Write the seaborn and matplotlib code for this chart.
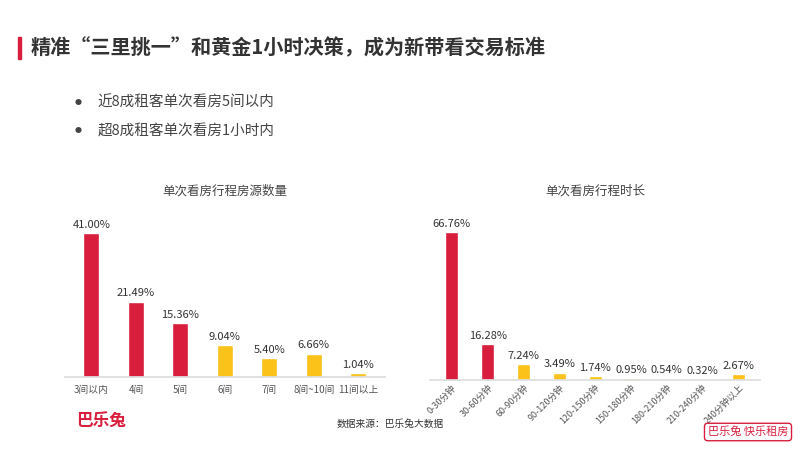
import matplotlib
matplotlib.use("Agg")
import matplotlib.pyplot as plt
import seaborn as sns
import pandas as pd

sns.set_theme(style="white")
plt.rcParams["font.family"] = ["Noto Sans CJK SC", "DejaVu Sans"]

RED = "#d81e3c"
YELLOW = "#fbc21a"

# left chart: listings viewed per trip
rooms = ["3间以内", "4间", "5间", "6间", "7间", "8间~10间", "11间以上"]
rooms_pct = [41.00, 21.49, 15.36, 9.04, 5.40, 6.66, 1.04]
rooms_hl = [True, True, True, False, False, False, False]

# right chart: trip duration
durations = ["0-30分钟", "30-60分钟", "60-90分钟", "90-120分钟", "120-150分钟",
             "150-180分钟", "180-210分钟", "210-240分钟", "240分钟以上"]
dur_pct = [66.76, 16.28, 7.24, 3.49, 1.74, 0.95, 0.54, 0.32, 2.67]
dur_hl = [True, True, False, False, False, False, False, False, False]

fig = plt.figure(figsize=(8, 4.5), dpi=100)
fig.patch.set_facecolor("white")

# header
fig.add_artist(plt.Rectangle((0.022, 0.868), 0.004, 0.05, color=RED, transform=fig.transFigure))
fig.text(0.038, 0.893, "精准“三里挑一”和黄金1小时决策，成为新带看交易标准",
         fontsize=14.5, fontweight="bold", color="#333333", va="center")
for y, line in [(0.772, "近8成租客单次看房5间以内"), (0.708, "超8成租客单次看房1小时内")]:
    fig.text(0.093, y, "●", fontsize=5, color="#444444", va="center")
    fig.text(0.122, y, line, fontsize=10.5, color="#444444", va="center")


def draw(ax, cats, vals, hl, ymax, width, title, rot):
    df = pd.DataFrame({"cat": cats, "val": vals,
                       "grp": ["hl" if h else "lo" for h in hl]})
    sns.barplot(data=df, x="cat", y="val", hue="grp",
                palette={"hl": RED, "lo": YELLOW}, dodge=False, saturation=1,
                width=width, legend=False, ax=ax)
    ax.set_ylim(0, ymax)
    ax.set_xlim(-0.6, len(cats) - 0.4)
    for i, v in enumerate(vals):
        ax.text(i, v + ymax * 0.02, f"{v:.2f}%", ha="center", va="bottom",
                fontsize=8, color="#333333")
    ax.set_xlabel("")
    ax.set_ylabel("")
    ax.set_yticks([])
    for s in ["top", "right", "left"]:
        ax.spines[s].set_visible(False)
    ax.spines["bottom"].set_color("#dddddd")
    if rot:
        ax.tick_params(axis="x", labelsize=6.5, colors="#555555", length=0, pad=2)
        plt.setp(ax.get_xticklabels(), rotation=45, ha="right", rotation_mode="anchor")
    else:
        ax.tick_params(axis="x", labelsize=7, colors="#555555", length=0, pad=6)
    ax.set_title(title, fontsize=9, color="#444444", pad=4)


ax1 = fig.add_axes([0.081, 0.162, 0.40, 0.393])
draw(ax1, rooms, rooms_pct, rooms_hl, 50.4, 0.36, "单次看房行程房源数量", False)

ax2 = fig.add_axes([0.538, 0.155, 0.412, 0.40])
draw(ax2, durations, dur_pct, dur_hl, 81.2, 0.36, "单次看房行程时长", True)

fig.text(0.095, 0.065, "巴乐兔", fontsize=12, fontweight="bold", color=RED, va="center")
fig.text(0.555, 0.058, "数据来源：巴乐兔大数据", fontsize=7, color="#333333", ha="right", va="center")
fig.text(0.935, 0.04, "巴乐兔 快乐租房", fontsize=8, color=RED, ha="center", va="center",
         bbox=dict(boxstyle="round,pad=0.3", fc="white", ec=RED, lw=1))

fig.savefig("out.png", dpi=100, facecolor="white")
